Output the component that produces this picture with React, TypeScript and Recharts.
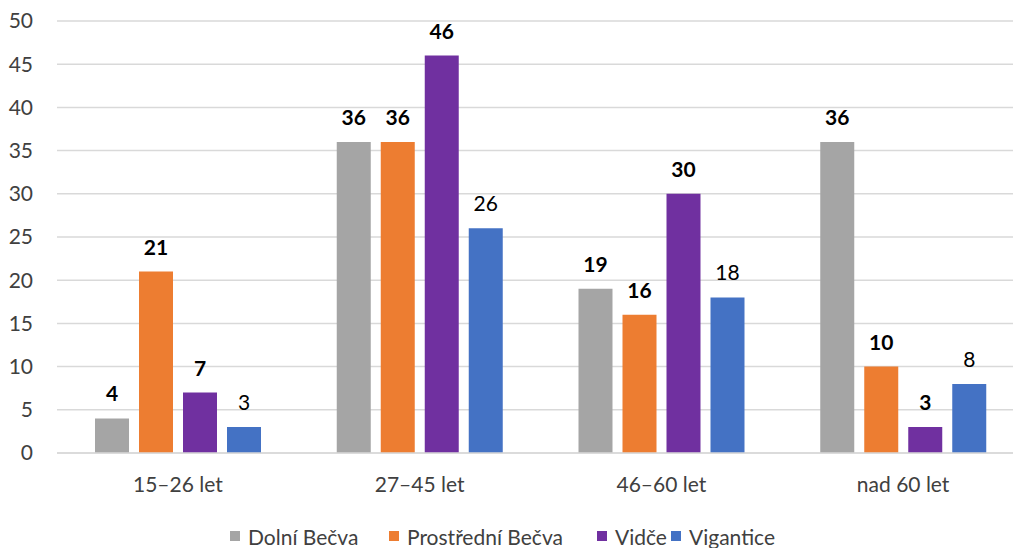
import React from "react";
import { BarChart, Bar, XAxis, YAxis, CartesianGrid, Legend, LabelList } from "recharts";

const categories = ["15–26 let", "27–45 let", "46–60 let", "nad 60 let"];
const dolniBecva = [4, 36, 19, 36];
const prostredniBecva = [21, 36, 16, 10];
const vidce = [7, 46, 30, 3];
const vigantice = [3, 26, 18, 8];
const yTicks = [0, 5, 10, 15, 20, 25, 30, 35, 40, 45, 50];

const series = [
  { key: "dolni", name: "Dolní Bečva", color: "#A5A5A5", bold: true, width: 159 },
  { key: "prostredni", name: "Prostřední Bečva", color: "#ED7D31", bold: true, width: 208 },
  { key: "vidce", name: "Vidče", color: "#7030A0", bold: true, width: 74 },
  { key: "vigantice", name: "Vigantice", color: "#4472C4", bold: false, width: 140 },
];

const data = categories.map((c, i) => ({
  cat: c,
  dolni: dolniBecva[i],
  prostredni: prostredniBecva[i],
  vidce: vidce[i],
  vigantice: vigantice[i],
}));

const FONT = "Lato, 'Open Sans', sans-serif";
const FS = 21;

const LegendContent = () => (
  <div style={{ display: "flex", paddingLeft: 230, height: 24, alignItems: "center", fontFamily: FONT, fontSize: FS, color: "#404040" }}>
    {series.map((s) => (
      <div key={s.key} style={{ width: s.width, display: "flex", alignItems: "center", flexShrink: 0 }}>
        <span style={{ display: "inline-block", width: 10, height: 10, background: s.color, marginRight: 8 }} />
        <span style={{ whiteSpace: "nowrap" }}>{s.name}</span>
      </div>
    ))}
  </div>
);

export default function App() {
  return (
    <div style={{ position: "absolute", left: 0, top: 0, width: 1013, height: 548, background: "#fff", overflow: "hidden" }}>
      <BarChart
        width={1030}
        height={548}
        data={data}
        margin={{ top: 21, right: 6, bottom: 0, left: 0 }}
        barCategoryGap={38}
        barGap={10}
      >
        <CartesianGrid vertical={false} stroke="#D9D9D9" strokeWidth={1.5} />
        <XAxis
          dataKey="cat"
          axisLine={{ stroke: "#D9D9D9", strokeWidth: 1.5 }}
          tickLine={false}
          tickSize={0}
          tickMargin={24}
          height={71}
          tick={{ fill: "#404040", fontSize: FS, fontFamily: FONT }}
        />
        <YAxis
          domain={[0, 50]}
          ticks={yTicks}
          axisLine={false}
          tickLine={false}
          tickSize={0}
          tickMargin={24}
          width={57}
          interval={0}
          tick={{ fill: "#404040", fontSize: FS, fontFamily: FONT }}
        />
        <Legend verticalAlign="bottom" content={<LegendContent />} />
        {series.map((s) => (
          <Bar key={s.key} dataKey={s.key} name={s.name} fill={s.color} isAnimationActive={false}>
            <LabelList
              dataKey={s.key}
              position="top"
              offset={17}
              style={{ fill: "#000", fontSize: FS, fontFamily: FONT, fontWeight: s.bold ? 700 : 400 }}
            />
          </Bar>
        ))}
      </BarChart>
    </div>
  );
}
